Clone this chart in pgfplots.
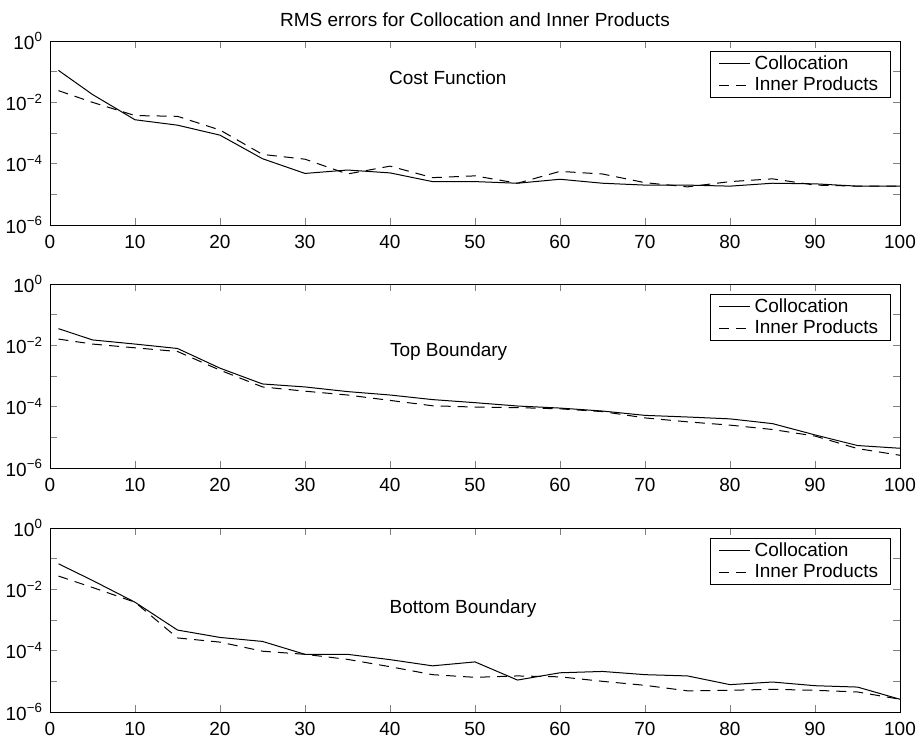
\documentclass[border=0pt]{standalone}
\usepackage{pgfplots}
\pgfplotsset{compat=1.18}
\usepackage{fontspec}
\setmainfont{Liberation Sans}

\pgfplotsset{
  every axis/.append style={
    scale only axis, width=425pt, height=92pt,
    xmin=0, xmax=100,
    tick align=inside, major tick length=3.5pt,
    font=\fontsize{9.5}{11.4}\selectfont,
    xticklabel style={yshift=-1.5pt},
    legend cell align=left,
  },
  every axis legend/.append style={at={(0.989,0.946)}, anchor=north east,
    draw=black, line width=0.5pt, inner xsep=4pt, inner ysep=0pt, row sep=-1.5pt,
    font=\fontsize{9.5}{11.4}\selectfont},
  legend image code/.code={\draw[#1] (0pt,0pt) -- (15.5pt,0pt);},
}

\begin{document}
\begin{tikzpicture}
\path[use as bounding box] (-25pt,20.5pt) rectangle (434pt,-348pt);

% Cost function
\begin{axis}[at={(0pt,0pt)}, anchor=north west,
  ymode=log, ymin=1e-6, ymax=1, yminorticks=false,
  xtick={0,10,20,30,40,50,60,70,80,90,100},
  ytick={1e-6,1e-5,1e-4,1e-3,1e-2,1e-1,1},
  yticklabels={10\textsuperscript{−6},,10\textsuperscript{−4},,10\textsuperscript{−2},,10\textsuperscript{0}},
  /pgf/number format/assume math mode=true,
  title={RMS errors for Collocation and Inner Products},
  title style={at={(0.5,1)}, anchor=base, yshift=1pt}]
\addplot[black, line width=0.5pt] coordinates {
(1,1.1e-1) (5,1.8e-2) (10,2.7e-3) (15,1.8e-3) (20,8.5e-4) (25,1.45e-4)
(30,4.8e-5) (35,6.2e-5) (40,5.0e-5) (45,2.6e-5) (50,2.6e-5) (55,2.3e-5)
(60,3.1e-5) (65,2.3e-5) (70,2.0e-5) (75,2.0e-5) (80,1.85e-5) (85,2.3e-5)
(90,2.2e-5) (95,1.85e-5) (100,1.85e-5)};
\addplot[black, line width=0.5pt, dash pattern=on 5pt off 3.5pt] coordinates {
(1,2.4e-2) (5,1.0e-2) (10,3.7e-3) (15,3.5e-3) (20,1.25e-3) (25,2.0e-4)
(30,1.4e-4) (35,4.6e-5) (40,8.3e-5) (45,3.5e-5) (50,4.0e-5) (55,2.3e-5)
(60,5.6e-5) (65,4.6e-5) (70,2.4e-5) (75,1.75e-5) (80,2.6e-5) (85,3.2e-5)
(90,2.0e-5) (95,1.85e-5) (100,1.85e-5)};
\legend{Collocation,Inner Products}
\node at (rel axis cs:0.468,0.80) {Cost Function};
\end{axis}

% Top boundary
\begin{axis}[at={(0pt,-121.5pt)}, anchor=north west,
  ymode=log, ymin=1e-6, ymax=1, yminorticks=false,
  xtick={0,10,20,30,40,50,60,70,80,90,100},
  ytick={1e-6,1e-5,1e-4,1e-3,1e-2,1e-1,1},
  yticklabels={10\textsuperscript{−6},,10\textsuperscript{−4},,10\textsuperscript{−2},,10\textsuperscript{0}},
  /pgf/number format/assume math mode=true]
\addplot[black, line width=0.5pt] coordinates {
(1,3.5e-2) (5,1.5e-2) (10,1.1e-2) (15,7.9e-3) (20,1.8e-3) (25,5.5e-4)
(30,4.4e-4) (35,3.1e-4) (40,2.4e-4) (45,1.7e-4) (50,1.35e-4) (55,1.05e-4)
(60,9.0e-5) (65,7.2e-5) (70,5.2e-5) (75,4.6e-5) (80,4.0e-5) (85,2.8e-5)
(90,1.2e-5) (95,5.4e-6) (100,4.4e-6)};
\addplot[black, line width=0.5pt, dash pattern=on 5pt off 3.5pt] coordinates {
(1,1.6e-2) (5,1.1e-2) (10,8.3e-3) (15,6.3e-3) (20,1.55e-3) (25,4.4e-4)
(30,3.2e-4) (35,2.4e-4) (40,1.6e-4) (45,1.07e-4) (50,9.7e-5) (55,9.3e-5)
(60,8.5e-5) (65,6.9e-5) (70,4.3e-5) (75,3.2e-5) (80,2.5e-5) (85,1.8e-5)
(90,1.1e-5) (95,4.3e-6) (100,2.6e-6)};
\legend{Collocation,Inner Products}
\node at (rel axis cs:0.469,0.632) {Top Boundary};
\end{axis}

% Bottom boundary
\begin{axis}[at={(0pt,-243.5pt)}, anchor=north west,
  ymode=log, ymin=1e-6, ymax=1, yminorticks=false,
  xtick={0,10,20,30,40,50,60,70,80,90,100},
  ytick={1e-6,1e-5,1e-4,1e-3,1e-2,1e-1,1},
  yticklabels={10\textsuperscript{−6},,10\textsuperscript{−4},,10\textsuperscript{−2},,10\textsuperscript{0}},
  /pgf/number format/assume math mode=true]
\addplot[black, line width=0.5pt] coordinates {
(1,6.8e-2) (5,1.95e-2) (10,3.8e-3) (15,4.7e-4) (20,2.7e-4) (25,2.0e-4)
(30,7.6e-5) (35,7.6e-5) (40,5.1e-5) (45,3.2e-5) (50,4.3e-5) (55,1.1e-5)
(60,1.9e-5) (65,2.1e-5) (70,1.65e-5) (75,1.5e-5) (80,7.8e-6) (85,9.5e-6)
(90,7.2e-6) (95,6.5e-6) (100,2.6e-6)};
\addplot[black, line width=0.5pt, dash pattern=on 5pt off 3.5pt] coordinates {
(1,2.7e-2) (5,1.15e-2) (10,3.8e-3) (15,2.6e-4) (20,1.9e-4) (25,9.6e-5)
(30,7.6e-5) (35,5.2e-5) (40,3.0e-5) (45,1.65e-5) (50,1.35e-5) (55,1.5e-5)
(60,1.4e-5) (65,1.0e-5) (70,7.4e-6) (75,4.9e-6) (80,5.1e-6) (85,5.5e-6)
(90,5.1e-6) (95,4.5e-6) (100,2.6e-6)};
\legend{Collocation,Inner Products}
\node at (rel axis cs:0.486,0.563) {Bottom Boundary};
\end{axis}
\end{tikzpicture}
\end{document}
